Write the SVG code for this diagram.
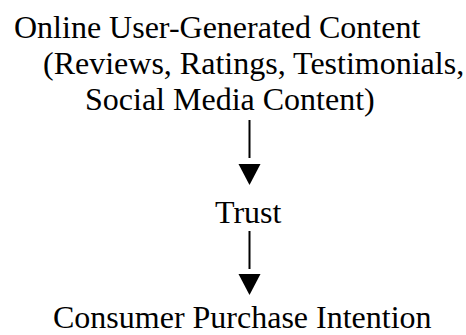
<svg xmlns="http://www.w3.org/2000/svg" width="466" height="335" viewBox="0 0 466 335">
  <style>
    .label { font-family: "Liberation Serif", "Times New Roman", serif; font-size: 32px; fill: #000000; }
    .link { stroke: #000000; stroke-width: 2; fill: none; }
    .head { fill: #000000; stroke: none; }
  </style>
  <rect x="0" y="0" width="466" height="335" fill="#ffffff"/>

  <!-- source: user-generated content -->
  <g id="ugc">
    <text class="label" x="14" y="38">Online User-Generated Content</text>
    <text class="label" x="43" y="74">(Reviews, Ratings, Testimonials,</text>
    <text class="label" x="85" y="110">Social Media Content)</text>
  </g>

  <!-- mediator -->
  <g id="trust">
    <text class="label" x="215" y="223">Trust</text>
  </g>

  <!-- outcome -->
  <g id="intention">
    <text class="label" x="53" y="328">Consumer Purchase Intention</text>
  </g>

  <!-- arrows -->
  <g id="connectors">
    <line class="link" x1="249.5" y1="120" x2="249.5" y2="158"/>
    <polygon class="head" points="238.5,164 260.5,164 249.5,185"/>
    <line class="link" x1="249.5" y1="231" x2="249.5" y2="269"/>
    <polygon class="head" points="238.5,274 260.5,274 249.5,295"/>
  </g>
</svg>
